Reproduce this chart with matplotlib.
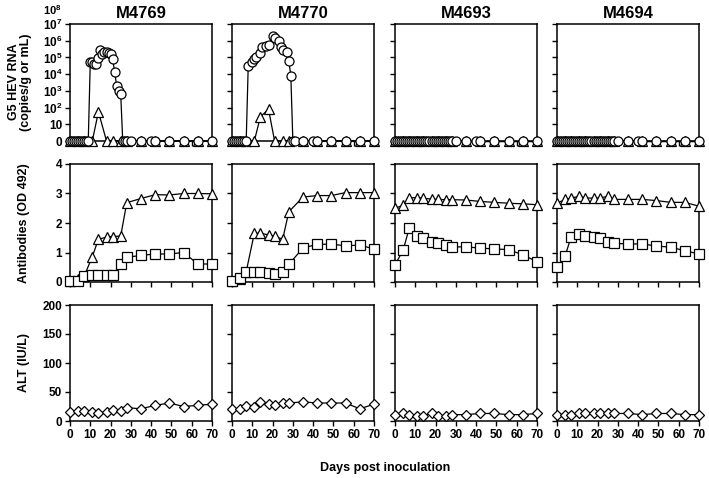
import matplotlib.pyplot as plt
import numpy as np

plt.rcParams['font.family'] = ['Liberation Sans Narrow', 'Liberation Sans', 'DejaVu Sans']
plt.rcParams['font.weight'] = 'bold'
plt.rcParams['mathtext.fontset'] = 'custom'
plt.rcParams['mathtext.rm'] = 'Liberation Sans:bold'
plt.rcParams['mathtext.it'] = 'Liberation Sans:bold'
plt.rcParams['mathtext.bf'] = 'Liberation Sans:bold'

animals = ['M4769', 'M4770', 'M4693', 'M4694']

# feces RNA (copies/g), 0 = not detected
rna_days_base = [0, 1, 2, 3, 4, 5, 6, 7, 8, 9, 10, 11, 12, 13, 14, 15, 16, 17, 18, 19,
                 20, 21, 22, 23, 24, 25, 26, 27, 28, 30, 35, 40, 42, 49, 56, 63, 70]
rna_days_m4770 = [0, 1, 2, 3, 4, 5, 6, 7, 8, 10, 11, 12, 14, 15, 17, 18, 20, 21, 23, 24,
                  25, 27, 28, 29, 30, 31, 35, 40, 42, 49, 56, 63, 70]

rna_m4769 = [0, 0, 0, 0, 0, 0, 0, 0, 0, 0,
             5.6e4, 5.0e4, 4.0e4, 4.0e4, 8.9e4, 2.8e5, 1.6e5, 2.0e5, 2.0e5, 1.8e5,
             1.6e5, 8.0e4, 1.4e4, 2.0e3, 1.0e3, 6.3e2,
             0, 0, 0, 0, 0, 0, 0, 0, 0, 0, 0]
rna_m4770 = [0, 0, 0, 0, 0, 0, 0, 0,
             3.2e4, 5.0e4, 8.0e4, 1.1e5, 1.8e5, 4.0e5, 5.0e5, 5.6e5, 1.8e6, 1.4e6,
             9.0e5, 4.5e5, 2.8e5, 2.0e5, 6.3e4, 8.0e3,
             0, 0, 0, 0, 0, 0, 0, 0, 0]
rna_m4693 = [0] * len(rna_days_base)
rna_m4694 = [0] * len(rna_days_base)

# serum samples
serum_days = [0, 4, 7, 11, 14, 18, 21, 25, 28, 35, 42, 49, 56, 63, 70]

serum_rna_m4769 = [0, 0, 0, 0, 56, 0, 0, 0, 0, 0, 0, 0, 0, 0, 0]
serum_rna_m4770 = [0, 0, 0, 0, 28, 80, 0, 0, 0, 0, 0, 0, 0, 0, 0]
serum_rna_m4693 = [0, 0, 0, 0, 0, 0, 0, 0, 0, 0, 0, 0, 0, 0, 0]
serum_rna_m4694 = [0, 0, 0, 0, 0, 0, 0, 0, 0, 0, 0, 0, 0, 0, 0]

igg_m4769 = [0.05, 0.1, 0.2, 0.86, 1.45, 1.52, 1.54, 1.56, 2.69, 2.83, 2.96, 2.95, 3.0, 3.0, 2.99]
igg_m4770 = [0.05, 0.1, 0.35, 1.65, 1.65, 1.6, 1.55, 1.45, 2.38, 2.88, 2.93, 2.93, 3.03, 3.03, 3.03]
igg_m4693 = [2.5, 2.6, 2.85, 2.86, 2.84, 2.81, 2.8, 2.79, 2.79, 2.78, 2.73, 2.7, 2.67, 2.65, 2.62]
igg_m4694 = [2.67, 2.8, 2.85, 2.9, 2.85, 2.84, 2.85, 2.9, 2.8, 2.8, 2.8, 2.76, 2.7, 2.7, 2.57]

igm_m4769 = [0.02, 0.05, 0.2, 0.23, 0.23, 0.23, 0.23, 0.6, 0.84, 0.9, 0.95, 0.95, 1.0, 0.61, 0.61]
igm_m4770 = [0.05, 0.12, 0.33, 0.35, 0.33, 0.3, 0.28, 0.35, 0.6, 1.15, 1.28, 1.28, 1.23, 1.25, 1.12]
igm_m4693 = [0.58, 1.08, 1.82, 1.56, 1.49, 1.37, 1.32, 1.25, 1.19, 1.19, 1.15, 1.12, 1.1, 0.92, 0.69]
igm_m4694 = [0.5, 0.88, 1.54, 1.63, 1.56, 1.54, 1.48, 1.37, 1.31, 1.29, 1.29, 1.22, 1.18, 1.06, 0.95]

alt_m4769 = [15, 17, 17, 15, 14, 16, 19, 17, 23, 21, 27, 31, 25, 27, 29]
alt_m4770 = [21, 20, 26, 24, 33, 29, 27, 31, 31, 33, 31, 31, 31, 21, 29]
alt_m4693 = [11, 13, 10, 9, 9, 13, 9, 9, 11, 11, 13, 13, 11, 11, 13]
alt_m4694 = [10, 11, 11, 13, 13, 13, 13, 13, 13, 13, 11, 13, 13, 11, 11]

rna_days = [rna_days_base, rna_days_m4770, rna_days_base, rna_days_base]
rna = [rna_m4769, rna_m4770, rna_m4693, rna_m4694]
serum_rna = [serum_rna_m4769, serum_rna_m4770, serum_rna_m4693, serum_rna_m4694]
igg = [igg_m4769, igg_m4770, igg_m4693, igg_m4694]
igm = [igm_m4769, igm_m4770, igm_m4693, igm_m4694]
alt = [alt_m4769, alt_m4770, alt_m4693, alt_m4694]


def log_pos(vals):
    # undetected values sit on the "0" line, one decade below 10
    v = np.array(vals, dtype=float)
    out = np.zeros_like(v)
    out[v > 0] = np.log10(v[v > 0])
    return out


W, H = 709, 478
fig = plt.figure(figsize=(W / 100, H / 100), dpi=100)

lefts = [70, 232, 395, 557]
pw = 142
rows = [(24, 141), (164, 282), (305, 421)]

mk = dict(color='black', lw=0.9, mfc='white', mec='black', mew=0.9, clip_on=False)


def make_ax(col, row):
    top, bot = rows[row]
    ax = fig.add_axes([lefts[col] / W, 1 - bot / H, pw / W, (bot - top) / H])
    for s in ax.spines.values():
        s.set_linewidth(1.1)
    ax.set_xlim(0, 70)
    ax.set_xticks(range(0, 71, 10))
    ax.tick_params(direction='out', length=3.5, width=1, labelsize=8.5, pad=2)
    if row < 2:
        ax.set_xticklabels([])
    if col > 0:
        ax.set_yticklabels([])
    return ax


for c in range(4):
    # row 1: HEV RNA
    ax = make_ax(c, 0)
    ax.plot(serum_days, log_pos(serum_rna[c]), marker='^', ms=6.5, zorder=3, **mk)
    ax.plot(rna_days[c], log_pos(rna[c]), marker='o', ms=6.5, zorder=4, **mk)
    ax.set_ylim(0, 7)
    ax.set_yticks(range(0, 8))
    if c == 0:
        ax.set_yticklabels(['0', '10'] + [r'$10^{%d}$' % k for k in range(2, 8)])
        ax.text(-0.06, 7.82, r'$10^{8}$', transform=ax.get_yaxis_transform(),
                ha='right', va='center', fontsize=8)
    ax.set_title(animals[c], fontsize=12, fontweight='bold', pad=4)

    # row 2: antibodies
    ax = make_ax(c, 1)
    ax.plot(serum_days, igg[c], marker='^', ms=6.5, zorder=3, **mk)
    ax.plot(serum_days, igm[c], marker='s', ms=6.5, zorder=4, **mk)
    ax.set_ylim(0, 4)
    ax.set_yticks(range(0, 5))

    # row 3: ALT
    ax = make_ax(c, 2)
    ax.plot(serum_days, alt[c], marker='D', ms=5, zorder=3, **mk)
    ax.set_ylim(0, 200)
    ax.set_yticks(range(0, 201, 50))

fig.text(20 / W, 1 - 82 / H, 'G5 HEV RNA\n(copies/g or mL)', rotation=90,
         ha='center', va='center', fontsize=9, fontweight='bold', linespacing=1.1)
fig.text(24 / W, 1 - 223 / H, 'Antibodies (OD 492)', rotation=90,
         ha='center', va='center', fontsize=9, fontweight='bold')
fig.text(24 / W, 1 - 363 / H, 'ALT (IU/L)', rotation=90,
         ha='center', va='center', fontsize=9, fontweight='bold')
fig.text(385 / W, 1 - 468 / H, 'Days post inoculation', ha='center', va='center',
         fontsize=9, fontweight='bold')

fig.savefig('out.png', dpi=100)
